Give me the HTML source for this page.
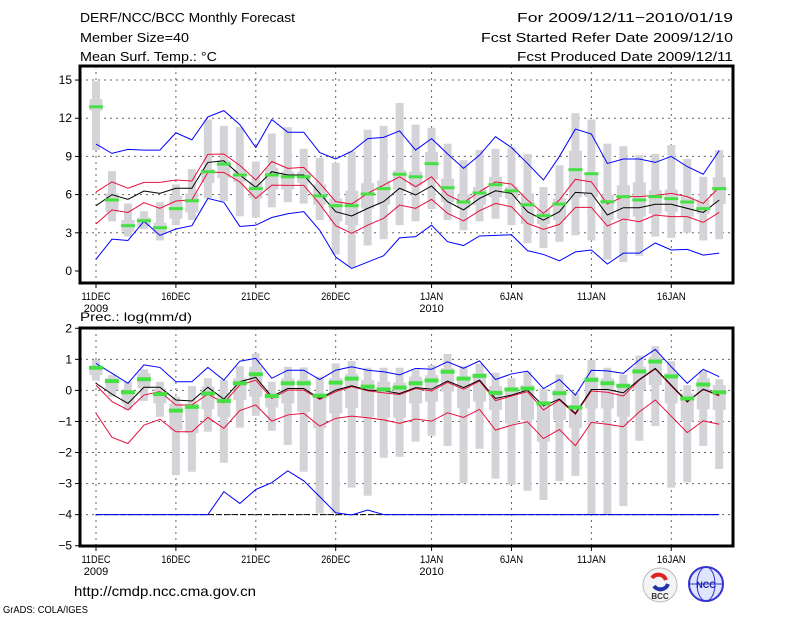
<!DOCTYPE html>
<html><head><meta charset="utf-8"><style>
html,body{margin:0;padding:0;background:#fff;}
svg{display:block;font-family:"Liberation Sans",sans-serif;}
</style></head><body>
<svg id="chart" width="800" height="618" viewBox="0 0 800 618" xmlns="http://www.w3.org/2000/svg">
<rect width="800" height="618" fill="#fff"/>
<g font-size="13" fill="#000">
<text x="80" y="22" textLength="215" lengthAdjust="spacingAndGlyphs">DERF/NCC/BCC Monthly Forecast</text>
<text x="80" y="42" textLength="109" lengthAdjust="spacingAndGlyphs">Member Size=40</text>
<text x="80" y="61" textLength="137" lengthAdjust="spacingAndGlyphs">Mean Surf. Temp.: °C</text>
<text x="733" y="22" text-anchor="end" textLength="216" lengthAdjust="spacingAndGlyphs">For 2009/12/11−2010/01/19</text>
<text x="733" y="42" text-anchor="end" textLength="252" lengthAdjust="spacingAndGlyphs">Fcst Started Refer Date 2009/12/10</text>
<text x="733" y="61" text-anchor="end" textLength="216" lengthAdjust="spacingAndGlyphs">Fcst Produced Date 2009/12/11</text>
</g>
<g id="top"></g>
<g id="bot"></g>
<text x="80" y="321" font-size="12" textLength="112" lengthAdjust="spacingAndGlyphs">Prec.: log(mm/d)</text>
<text x="74" y="596" font-size="14" textLength="182" lengthAdjust="spacingAndGlyphs">http://cmdp.ncc.cma.gov.cn</text>
<text x="3" y="613" font-size="10" textLength="85" lengthAdjust="spacingAndGlyphs">GrADS: COLA/IGES</text>
<g>
<circle cx="660" cy="585" r="17" fill="#f4f4f4" stroke="#bbb"/>
<path d="M652 578 a8 8 0 0 1 14 2" stroke="#d22" stroke-width="4" fill="none"/>
<path d="M668 584 a8 8 0 0 1 -14 2" stroke="#23a" stroke-width="4" fill="none"/>
<text x="660" y="599" font-size="8" font-weight="bold" fill="#333" text-anchor="middle">BCC</text>
</g>
<g>
<circle cx="706" cy="584" r="17" fill="#dfe4ff" stroke="#33c" stroke-width="2"/>
<ellipse cx="706" cy="584" rx="9" ry="17" fill="none" stroke="#33c"/>
<line x1="689" y1="584" x2="723" y2="584" stroke="#33c"/>
<text x="706" y="588" font-size="9" font-weight="bold" fill="#22a" text-anchor="middle">NCC</text>
</g>
</svg>
<script>
// ---- Temperature panel data (days 0..39 from 11DEC) ----
const tBlueHi=[9.97,9.24,9.55,9.5,9.5,10.86,10.3,12.1,12.6,11.5,9.7,11.9,10.9,10.9,9.3,8.8,9.4,10.4,10.5,11.0,9.5,10.4,9.2,8.06,9.1,10.55,9.7,8.45,7.15,9.0,11.15,10.76,8.45,8.8,8.8,8.53,9.0,8.2,7.6,9.45];
const tBlueLo=[0.92,2.5,2.4,3.9,2.8,3.3,3.56,5.7,5.4,3.5,3.6,4.2,4.5,4.66,3.2,1.1,0.2,0.7,1.2,2.6,2.7,3.6,2.3,2.0,2.75,2.8,2.85,1.6,1.3,0.8,1.5,1.65,0.55,1.4,1.4,2.2,1.65,1.7,1.25,1.4];
const tRedHi=[6.2,7.0,6.5,6.96,6.96,7.15,7.07,9.16,9.19,8.3,7.15,8.6,8.06,8.14,6.9,5.45,5.26,6.1,6.75,7.4,6.62,7.4,5.97,5.37,6.23,7.0,6.83,5.58,4.53,5.58,7.2,7.0,5.26,5.84,5.84,5.94,6.1,5.84,5.31,6.57];
const tMean=[5.13,6.0,5.63,6.28,6.1,6.5,6.5,8.53,8.66,7.54,6.57,7.8,7.54,7.54,6.1,4.66,4.32,4.92,5.45,6.5,5.97,6.68,5.45,4.8,5.7,6.3,6.1,4.66,4.0,4.66,6.18,6.1,4.4,4.97,4.97,5.24,5.24,4.92,4.6,5.58];
const tRedLo=[3.7,4.8,4.6,5.37,4.92,5.5,5.6,7.75,7.75,7.0,5.7,6.75,6.73,6.73,5.26,3.56,2.96,3.6,4.14,5.18,4.92,5.63,4.53,3.93,4.74,5.31,5.05,3.74,3.27,3.66,5.0,5.0,3.53,4.08,3.87,4.4,4.27,4.27,3.82,4.6];
const tGreen=[12.9,5.58,3.56,3.95,3.4,4.9,5.52,7.8,8.4,7.54,6.47,7.54,7.4,7.4,5.9,5.13,5.13,6.05,6.47,7.6,7.4,8.43,6.54,5.42,6.13,6.78,6.3,5.2,4.35,5.26,7.96,7.64,5.44,5.84,5.58,5.84,5.68,5.42,4.9,6.47];
const tMax=[14.9,7.85,5.3,4.7,5.4,6.8,8.0,11.9,11.4,11.3,8.6,10.8,11.3,9.6,8.9,8.5,9.4,11.1,11.4,13.2,11.5,11.25,10.0,8.7,9.5,9.6,9.7,9.2,6.6,8.3,12.4,11.9,10.0,9.8,9.1,9.2,9.9,8.8,7.4,9.5];
const tMin=[9.5,3.9,2.7,3.3,2.4,3.6,4.0,5.7,5.5,4.3,4.2,5.0,5.4,5.3,4.0,1.3,0.3,2.0,2.5,3.6,3.9,4.87,4.0,3.2,3.9,4.1,3.6,2.2,1.8,2.3,2.8,2.4,0.9,0.7,1.2,2.7,2.6,3.0,2.4,2.5];
const tQ3=[13.5,6.1,4.0,4.2,3.8,5.9,6.1,8.0,8.7,8.0,7.0,8.1,7.8,7.8,6.8,5.7,6.3,6.9,7.1,7.9,7.8,9.35,7.25,6.0,6.6,7.4,6.6,6.1,4.8,5.7,9.45,7.67,6.0,6.75,6.96,6.36,6.4,5.84,5.6,7.36];
const tQ1=[12.6,4.6,3.1,3.5,2.9,4.1,4.6,6.9,7.3,7.0,5.7,6.4,6.4,6.9,5.2,3.9,3.6,4.9,5.2,6.4,6.7,7.2,5.4,4.9,5.2,5.8,5.7,3.7,3.7,4.0,5.8,5.8,4.0,4.1,4.27,4.5,4.66,4.27,4.5,5.26];
const tTicks=[0,3,6,9,12,15];
// ---- Precipitation panel data ----
const pBlueHi=[0.87,0.55,0.23,0.82,0.74,0.28,0.28,0.74,0.33,0.94,1.03,0.39,0.65,0.65,0.35,0.65,0.76,0.65,0.6,0.5,0.71,0.68,0.92,0.71,0.95,0.35,0.53,0.62,0.06,0.35,-0.15,0.65,0.63,0.55,0.98,1.32,0.76,0.23,0.68,0.44];
const pBlueLo=[-4,-4,-4,-4,-4,-4,-4,-4,-3.26,-3.64,-3.19,-2.97,-2.59,-2.91,-3.42,-3.94,-4.01,-3.85,-4,-4,-4,-4,-4,-4,-4,-4,-4,-4,-4,-4,-4,-4,-4,-4,-4,-4,-4,-4,-4,-4];
const pMean=[0.23,-0.12,-0.42,0.1,0.1,-0.31,-0.34,0.1,-0.28,0.28,0.42,-0.2,0.06,0.06,-0.26,0.01,0.15,0.01,-0.01,-0.1,0.09,0.04,0.3,0.09,0.33,-0.26,-0.15,0.01,-0.5,-0.28,-0.74,0.03,0.03,-0.08,0.35,0.71,0.17,-0.36,0.04,-0.15];
const pRedHi=[0.17,-0.36,-0.63,-0.15,-0.04,-0.47,-0.47,-0.12,-0.4,0.17,0.33,-0.26,0.01,0.01,-0.29,-0.04,0.12,-0.01,-0.08,-0.13,0.06,-0.02,0.26,0.04,0.3,-0.33,-0.18,-0.04,-0.63,-0.31,-0.77,-0.02,-0.06,-0.18,0.33,0.69,0.14,-0.38,0.03,-0.18];
const pRedLo=[-0.74,-1.51,-1.71,-1.12,-0.93,-1.33,-1.33,-0.87,-1.22,-0.65,-0.47,-0.99,-0.79,-0.74,-1.15,-0.9,-0.83,-0.88,-0.95,-1.06,-0.92,-0.99,-0.72,-0.87,-0.61,-1.28,-1.12,-1.01,-1.55,-1.26,-1.78,-1.03,-1.09,-1.17,-0.69,-0.31,-0.83,-1.36,-0.98,-1.09];
const pGreen=[0.73,0.3,-0.06,0.36,-0.12,-0.65,-0.53,-0.1,-0.34,0.23,0.52,-0.18,0.23,0.23,-0.17,0.25,0.38,0.12,0.03,0.09,0.23,0.32,0.6,0.38,0.47,-0.08,0.03,0.06,-0.42,-0.09,-0.55,0.34,0.23,0.15,0.61,0.93,0.45,-0.26,0.19,-0.06];
const pMax=[0.98,0.49,0.28,0.68,0.28,-0.2,0.14,0.39,0.33,0.78,1.19,0.28,0.76,0.74,0.44,0.87,0.94,0.73,0.73,0.73,0.69,0.82,1.17,0.78,0.85,0.57,0.39,0.6,0.06,0.51,-0.1,0.98,0.73,0.51,1.12,1.43,0.94,0.17,0.65,0.36];
const pMin=[0.31,-0.2,-0.63,-0.34,-0.85,-2.73,-2.62,-1.33,-2.33,-1.2,-0.82,-1.3,-1.76,-2.62,-3.96,-3.96,-3.13,-3.39,-2.17,-2.14,-1.65,-1.46,-1.79,-2.99,-1.88,-2.84,-3.04,-3.23,-3.53,-2.92,-2.75,-3.98,-3.98,-3.72,-1.62,-1.15,-3.13,-2.96,-1.79,-2.53];
const pQ3=[0.76,0.39,-0.04,0.55,0.06,-0.42,-0.42,0.12,-0.1,0.39,0.76,-0.1,0.39,0.35,-0.1,0.39,0.53,0.33,0.28,0.25,0.44,0.49,0.71,0.44,0.55,0.14,0.01,0.17,-0.36,0.03,-0.47,0.44,0.39,0.2,0.76,1.08,0.55,-0.1,0.39,0.17];
const pQ1=[0.49,0.01,-0.42,0.06,-0.42,-1.28,-1.38,-0.61,-0.85,-0.31,-0.2,-0.55,-0.42,-0.69,-1.22,-0.74,-0.56,-0.85,-0.88,-0.88,-0.42,-0.36,-0.04,-0.58,-0.36,-0.63,-1.06,-0.95,-1.65,-0.95,-1.22,-0.58,-0.58,-0.85,0.01,0.17,-0.42,-1.0,-0.61,-0.63];
const pObs=[-4,-4,-4,-4,-4,-4,-4,-4,-4,-4,-4,-4,-4,-4,-4,-4,-4,-4,-4,-4,-4,-4,-4,-4,-4,-4,-4,-4,-4,-4,-4,-4,-4,-4,-4,-4,-4,-4,-4,-4];
const pTicks=[-5,-4,-3,-2,-1,0,1,2];
const xTickDays=[0,5,10,15,21,26,31,36];
const xTickLabels=["11DEC","16DEC","21DEC","26DEC","1JAN","6JAN","11JAN","16JAN"];
const yearDays=[0,21];
const yearLabels=["2009","2010"];

const NS="http://www.w3.org/2000/svg";
const X0=80,X1=733;
function xS(d){return 96+15.98*d;}
function mk(parent,tag,attrs){const e=document.createElementNS(NS,tag);for(const k in attrs)e.setAttribute(k,attrs[k]);parent.appendChild(e);return e;}

function panel(g,yS,top,bot,ticks,gridVals,S,prefix){
  gridVals.forEach(v=>{const l=mk(g,'line',{x1:X0,x2:X1,y1:yS(v),y2:yS(v),stroke:'#666','stroke-width':1,'stroke-dasharray':'2,4'});
    
    });
  xTickDays.forEach(d=>{const l=mk(g,'line',{x1:xS(d),x2:xS(d),y1:top,y2:bot,stroke:'#666','stroke-width':1,'stroke-dasharray':'2,4'});
    
    });
  for(let i=0;i<S.max.length;i++){
    const x=xS(i);
    const r1=mk(g,'rect',{x:x-4,y:yS(S.max[i]),width:8,height:yS(S.min[i])-yS(S.max[i]),fill:'#d4d4d8'});
    
    
    const r2=mk(g,'rect',{x:x-6.5,y:yS(S.q3[i]),width:13,height:yS(S.q1[i])-yS(S.q3[i]),fill:'#d4d4d8'});
    
    
  }
  function line(arr,col,name,w,dash){
    const p=mk(g,'polyline',{points:arr.map((v,i)=>xS(i)+','+yS(v)).join(' '),fill:'none',stroke:col,'stroke-width':w||1});
    if(dash)p.setAttribute('stroke-dasharray',dash);
    
    
  }
  if(S.obs)line(S.obs,'#000',prefix+'-obs-line',1,'6,2');
  line(S.redLo,'#e8103c',prefix+'-red-lower',1);
  line(S.redHi,'#e8103c',prefix+'-red-upper',1);
  line(S.mean,'#000',prefix+'-ensemble-mean',1);
  line(S.blueHi,'#0000ff',prefix+'-blue-upper',1);
  line(S.blueLo,'#0000ff',prefix+'-blue-lower',1);
  for(let i=0;i<S.green.length;i++){
    const r=mk(g,'rect',{x:xS(i)-7,y:yS(S.green[i])-S.gh/2,width:14,height:S.gh,fill:'#44e044'});
    
    
  }
  const f=mk(g,'rect',{x:X0,y:top,width:X1-X0,height:bot-top,fill:'none',stroke:'#000','stroke-width':3});
  
  
  ticks.forEach(v=>{
    const t=mk(g,'line',{x1:X0-5,x2:X0,y1:yS(v),y2:yS(v),stroke:'#000'});
    
    
    const tx=mk(g,'text',{x:X0-8,y:yS(v)+4,'font-size':12,'text-anchor':'end'});
    tx.textContent=(v<0?'−'+(-v):String(v));
    
    
  });
  xTickDays.forEach((d,k)=>{
    const t=mk(g,'line',{x1:xS(d),x2:xS(d),y1:bot,y2:bot+5,stroke:'#000'});
    
    
    const tx=mk(g,'text',{x:xS(d),y:bot+17,'font-size':11,'text-anchor':'middle',textLength:xTickLabels[k].length*5.8,lengthAdjust:'spacingAndGlyphs'});
    tx.textContent=xTickLabels[k];
    
    
  });
  yearDays.forEach((d,k)=>{
    const tx=mk(g,'text',{x:xS(d),y:bot+29,'font-size':11,'text-anchor':'middle'});
    tx.textContent=yearLabels[k];
    
    
  });
}
panel(document.getElementById('top'),v=>271-12.73*v,66,283,tTicks,[3,6,9,12,15],
 {max:tMax,min:tMin,q3:tQ3,q1:tQ1,blueHi:tBlueHi,blueLo:tBlueLo,redHi:tRedHi,redLo:tRedLo,mean:tMean,green:tGreen,gh:3},'temp');
panel(document.getElementById('bot'),v=>390.4-31.06*v,328,546,pTicks,[-4,-3,-2,-1,0,1],
 {max:pMax,min:pMin,q3:pQ3,q1:pQ1,blueHi:pBlueHi,blueLo:pBlueLo,redHi:pRedHi,redLo:pRedLo,mean:pMean,green:pGreen,obs:pObs,gh:4},'prec');
</script>
</body></html>
